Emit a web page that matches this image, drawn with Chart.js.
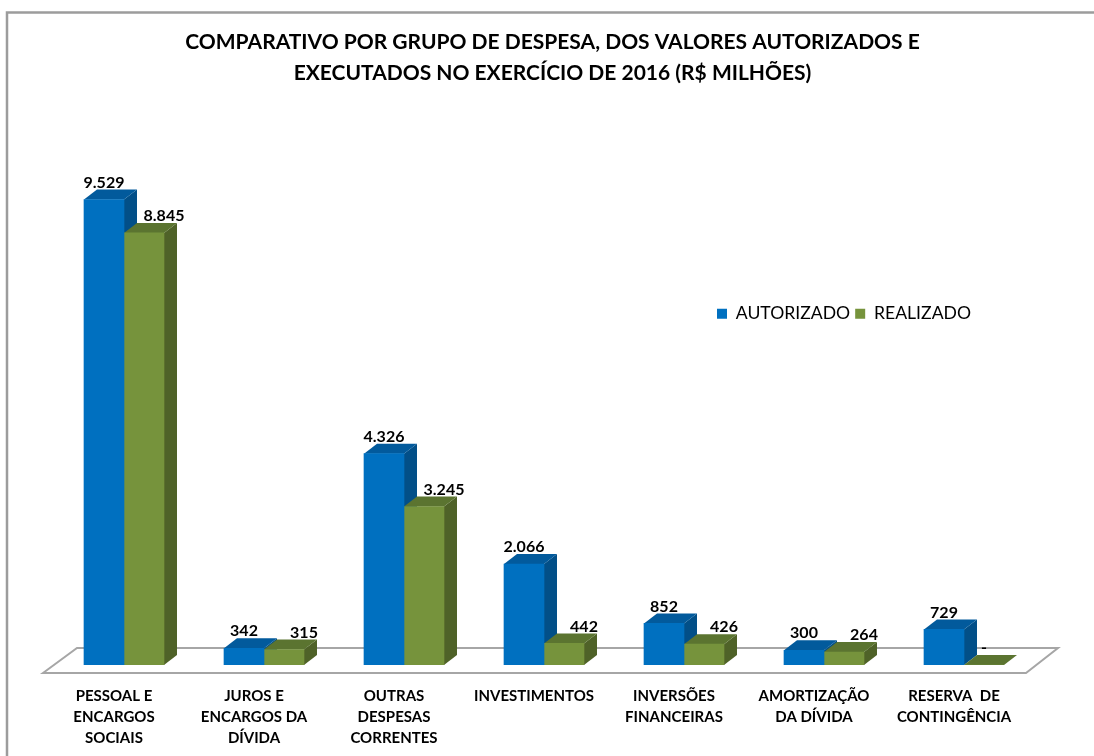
<!DOCTYPE html>
<html>
<head>
<meta charset="utf-8">
<script src="https://cdn.jsdelivr.net/npm/chart.js@4/dist/chart.umd.min.js"></script>
<style>
  html, body { margin: 0; padding: 0; background: #fff; }
  canvas { display: block; }
</style>
</head>
<body>
<canvas id="grupos" width="1094" height="756"></canvas>
<script>
const categories = [
  ['PESSOAL E', 'ENCARGOS', 'SOCIAIS'],
  ['JUROS E', 'ENCARGOS DA', 'DÍVIDA'],
  ['OUTRAS', 'DESPESAS', 'CORRENTES'],
  ['INVESTIMENTOS'],
  ['INVERSÕES', 'FINANCEIRAS'],
  ['AMORTIZAÇÃO', 'DA DÍVIDA'],
  ['RESERVA  DE', 'CONTINGÊNCIA'],
];
const autorizado = [9529, 342, 4326, 2066, 852, 300, 729];
const realizado = [8845, 315, 3245, 442, 426, 264, 0];

const titleLines = [
  'COMPARATIVO POR GRUPO DE DESPESA, DOS VALORES AUTORIZADOS E',
  'EXECUTADOS NO EXERCÍCIO DE 2016 (R$ MILHÕES)',
];

const DEPTH_X = 13;
const DEPTH_Y = 10;
const faces = [
  { top: '#025a9c', side: '#024f88' },
  { top: '#5b7430', side: '#4f6228' },
];

const poly = (ctx, pts, color) => {
  ctx.fillStyle = color;
  ctx.beginPath();
  pts.forEach((p, i) => (i ? ctx.lineTo(p[0], p[1]) : ctx.moveTo(p[0], p[1])));
  ctx.closePath();
  ctx.fill();
};

// sheet frame and the floor of the fake 3d plot
const floorPlugin = {
  id: 'floor',
  beforeDatasetsDraw(chart) {
    const { ctx, chartArea: a } = chart;
    ctx.save();
    ctx.strokeStyle = '#9c9c9c';
    ctx.lineWidth = 2.5;
    ctx.beginPath();
    ctx.moveTo(7, 756);
    ctx.lineTo(7, 12.5);
    ctx.lineTo(1094, 12.5);
    ctx.stroke();
    ctx.strokeStyle = '#a6a6a6';
    ctx.lineWidth = 2;
    ctx.beginPath();
    ctx.moveTo(a.left - 11, a.bottom + 8);
    ctx.lineTo(a.left + 23, a.bottom - 17);
    ctx.lineTo(a.right + 24, a.bottom - 17);
    ctx.lineTo(a.right - 8, a.bottom + 8);
    ctx.closePath();
    ctx.stroke();
    ctx.restore();
  },
};

// side and top faces, behind the library's own front rectangles
const depthPlugin = {
  id: 'depth',
  beforeDatasetsDraw(chart) {
    const { ctx } = chart;
    ctx.save();
    categories.forEach((c, j) => {
      faces.forEach((f, i) => {
        const b = chart.getDatasetMeta(i).data[j];
        const l = b.x - b.width / 2;
        const r = b.x + b.width / 2;
        poly(ctx, [[r, b.y], [r + DEPTH_X, b.y - DEPTH_Y], [r + DEPTH_X, b.base - DEPTH_Y], [r, b.base]], f.side);
        poly(ctx, [[l, b.y], [l + DEPTH_X, b.y - DEPTH_Y], [r + DEPTH_X, b.y - DEPTH_Y], [r, b.y]], f.top);
      });
    });
    ctx.restore();
  },
};

const valueLabels = {
  id: 'valueLabels',
  afterDatasetsDraw(chart) {
    const { ctx } = chart;
    ctx.save();
    ctx.font = 'bold 16px Lato';
    ctx.fillStyle = '#000';
    ctx.textAlign = 'center';
    ctx.textBaseline = 'middle';
    chart.data.datasets.forEach((ds, i) => {
      chart.getDatasetMeta(i).data.forEach((b, j) => {
        const v = ds.data[j];
        const text = v === 0 ? '-' : v.toLocaleString('pt-BR');
        const shift = i === 1 && v !== 0 ? 20 : 0;
        ctx.fillText(text, b.x + shift, b.y - 17);
      });
    });
    ctx.restore();
  },
};

// the legend sits inside the plot, the title is a bit right of the plot centre
const moveBoxes = {
  id: 'moveBoxes',
  afterLayout(chart) {
    const l = chart.legend;
    l.left = 712;
    l.right = l.left + l.width;
    l.top = 300;
    l.bottom = l.top + l.height;
    l.adjustHitBoxes();
    chart.titleBlock.left += 8.5;
    chart.titleBlock.right += 8.5;
  },
};

new Chart(document.getElementById('grupos'), {
  type: 'bar',
  data: {
    labels: categories,
    datasets: [
      { label: 'AUTORIZADO', data: autorizado, backgroundColor: '#0070c0', barThickness: 40 },
      { label: 'REALIZADO', data: realizado, backgroundColor: '#76933c', barThickness: 40 },
    ],
  },
  options: {
    responsive: false,
    animation: false,
    layout: { padding: { left: 54, right: 60, top: 0, bottom: 0 } },
    scales: {
      x: {
        afterFit(scale) { scale.height = 91; },
        grid: { display: false },
        border: { display: false },
        ticks: {
          color: '#000',
          font: { family: 'Lato', size: 15, weight: 'bold', lineHeight: 1.4 },
          padding: 13,
          labelOffset: -10,
          maxRotation: 0,
          autoSkip: false,
        },
      },
      y: { display: false, min: 0, max: 11000 },
    },
    plugins: {
      title: {
        display: true,
        text: titleLines,
        color: '#000',
        font: { family: 'Lato', size: 21, weight: 'bold', lineHeight: 1.5 },
        padding: { top: 26, bottom: 6 },
      },
      legend: {
        position: 'top',
        align: 'start',
        labels: {
          color: '#000',
          boxWidth: 10,
          boxHeight: 10,
          font: { family: 'Lato', size: 17.6 },
          padding: 5,
        },
      },
      tooltip: { enabled: false },
    },
  },
  plugins: [floorPlugin, depthPlugin, valueLabels, moveBoxes],
});
</script>
</body>
</html>
